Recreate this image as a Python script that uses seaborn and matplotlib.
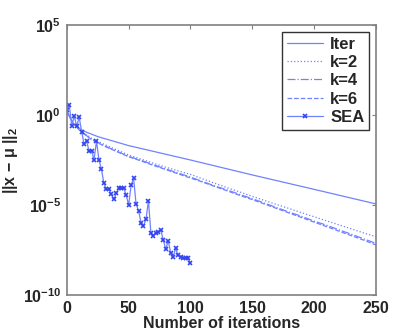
import numpy as np
import pandas as pd
import matplotlib
matplotlib.use('Agg')
import matplotlib.pyplot as plt
import seaborn as sns

# log10 of the error
iter_x = [0, 5, 10, 15, 25, 50, 75, 100, 150, 200, 250]
iter_log = [0.2, -0.45, -0.75, -0.93, -1.2, -1.7, -2.1, -2.5, -3.33, -4.13, -4.94]

k_x = [0, 5, 10, 15, 20, 30, 40, 50, 60, 70, 80, 90, 100, 110, 120, 130, 140, 150,
       160, 170, 180, 190, 200, 210, 220, 230, 240, 250]
k2_log = [0.2, -0.45, -0.8, -1.05, -1.3, -1.62, -1.93, -2.22, -2.45, -2.68, -2.9, -3.1,
          -3.3, -3.55, -3.8, -4.05, -4.28, -4.52, -4.75, -4.98, -5.2, -5.43, -5.65,
          -5.88, -6.1, -6.32, -6.55, -6.76]
k4_log = [0.2, -0.45, -0.82, -1.1, -1.35, -1.7, -2.0, -2.3, -2.52, -2.76, -3.0, -3.22,
          -3.45, -3.7, -3.95, -4.17, -4.42, -4.65, -4.9, -5.15, -5.4, -5.63, -5.9,
          -6.12, -6.38, -6.62, -6.88, -7.13]
k6_log = [0.2, -0.45, -0.82, -1.1, -1.36, -1.72, -2.02, -2.32, -2.55, -2.8, -3.03, -3.27,
          -3.5, -3.73, -3.98, -4.22, -4.47, -4.7, -4.95, -5.2, -5.45, -5.7, -5.95,
          -6.2, -6.45, -6.7, -6.95, -7.22]

sea_x = list(range(0, 101, 2))
sea_log = [0.28, 0.54, -0.61, -0.06, -0.61, -0.13, -0.93, -1.61, -1.44, -2.0, -1.98,
           -2.48, -1.46, -2.5, -3.02, -3.8, -4.13, -4.13, -4.4, -4.69, -4.35, -4.07,
           -4.07, -4.07, -4.44, -5.0, -3.89, -3.52, -4.94, -5.31, -5.98, -6.17, -5.8,
           -4.76, -6.57, -6.7, -6.57, -6.52, -6.39, -6.94, -7.46, -6.98, -7.65, -7.87,
           -7.41, -7.78, -7.91, -7.93, -7.93, -7.93, -8.24]

sns.set_style("white")
plt.rcParams['font.family'] = ['Liberation Sans', 'DejaVu Sans']
plt.rcParams['font.weight'] = 'bold'
plt.rcParams['mathtext.fontset'] = 'custom'
plt.rcParams['mathtext.rm'] = 'Liberation Sans:bold'
plt.rcParams['mathtext.it'] = 'Liberation Sans:bold'
plt.rcParams['mathtext.bf'] = 'Liberation Sans:bold'

fig = plt.figure(figsize=(4.15, 3.33), dpi=100)
ax = fig.add_axes([0.161, 0.114, 0.745, 0.811])

line_col = '#7082ff'
sea_col = '#3346f0'

series = [
    ('Iter', iter_x, iter_log, '-'),
    ('k=2', k_x, k2_log, ':'),
    ('k=4', k_x, k4_log, '-.'),
    ('k=6', k_x, k6_log, '--'),
]
for name, xs, ys, ls in series:
    df = pd.DataFrame({'it': xs, 'err': 10.0 ** np.array(ys)})
    sns.lineplot(data=df, x='it', y='err', ax=ax, color=line_col, linestyle=ls,
                 linewidth=0.9, label=name)

df_sea = pd.DataFrame({'it': sea_x, 'err': 10.0 ** np.array(sea_log)})
sns.lineplot(data=df_sea, x='it', y='err', ax=ax, color=line_col, linewidth=0.9,
             marker='x', markersize=3.5, markeredgecolor=sea_col, markeredgewidth=1.2,
             label='SEA')

ax.set_yscale('log')
ax.set_xlim(0, 250)
ax.set_ylim(1e-10, 1e5)
ax.set_xticks([0, 50, 100, 150, 200, 250])
ax.set_xticklabels(['0', '50', '100', '150', '200', '250'])
ax.set_yticks([1e-10, 1e-5, 1e0, 1e5])
ax.set_yticklabels([r'$10^{-10}$', r'$10^{-5}$', r'$10^{0}$', r'$10^{5}$'])
ax.minorticks_off()
ax.tick_params(direction='in', top=True, right=True, length=3, width=0.8,
               color='#808080', labelsize=11.5, pad=4)
for s in ax.spines.values():
    s.set_color('#808080')
    s.set_linewidth(1.2)

ax.set_xlabel('Number of iterations', fontsize=11.5, fontweight='bold', labelpad=0)
ax.set_ylabel(r'||x $-$ $\mu$ ||$_2$', fontsize=11.5, fontweight='bold', labelpad=2)

leg = ax.legend(loc='upper right', fontsize=12, frameon=True, fancybox=False,
                handlelength=2.2, handletextpad=0.4, borderpad=0.3, labelspacing=0.2,
                borderaxespad=0.4)
leg.get_frame().set_edgecolor('black')
leg.get_frame().set_linewidth(1.0)

plt.savefig('out.png', dpi=100)
